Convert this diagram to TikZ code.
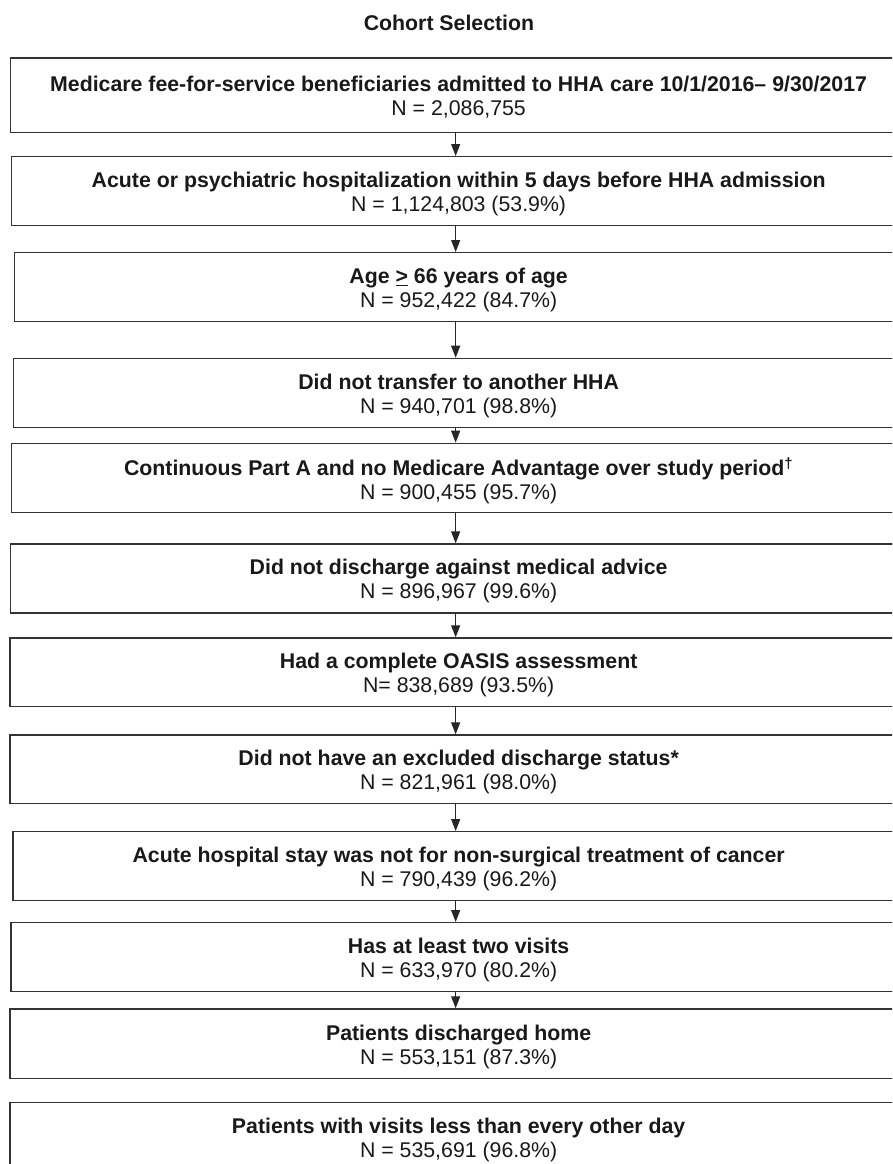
\documentclass[tikz,border=0pt]{standalone}
\usepackage{fontspec}
\setmainfont{Liberation Sans}
\usetikzlibrary{arrows.meta}
\begin{document}
\begin{tikzpicture}[x=1pt,y=-1pt,
  boxst/.style={draw=black!80, line width=1.3pt, anchor=north west, inner sep=0pt},
  txt/.style={align=center, text=black!90, font=\fontsize{21.3pt}{24pt}\selectfont, inner sep=0pt},
  arr/.style={draw=black!85, line width=1.2pt, -{Triangle[length=12pt,width=9pt]}}]
\useasboundingbox (0,0) rectangle (892,1164);
\clip (0,0) rectangle (892,1164);
\node[txt, font=\fontsize{21.3pt}{24pt}\selectfont\bfseries] (title) at (449,22.5) {Cohort Selection};

\node[boxst, minimum width=890pt, minimum height=74.5pt] (b1) at (10,57.5) {};
\node[boxst, minimum width=888pt, minimum height=69pt] (b2) at (11,156) {};
\node[boxst, minimum width=882pt, minimum height=68.5pt] (b3) at (14,252) {};
\node[boxst, minimum width=884.6pt, minimum height=69pt] (b4) at (12.7,357.7) {};
\node[boxst, minimum width=888pt, minimum height=69pt] (b5) at (11,442.7) {};
\node[boxst, minimum width=890pt, minimum height=69pt] (b6) at (10,543.3) {};
\node[boxst, minimum width=891.4pt, minimum height=68.4pt] (b7) at (9.3,637.3) {};
\node[boxst, minimum width=891.4pt, minimum height=68.4pt] (b8) at (9.3,734.3) {};
\node[boxst, minimum width=885.4pt, minimum height=69pt] (b9) at (12.3,831) {};
\node[boxst, minimum width=889.4pt, minimum height=69pt] (b10) at (10.3,922) {};
\node[boxst, minimum width=891.4pt, minimum height=69.2pt] (b11) at (9.3,1008.3) {};
\node[boxst, minimum width=891.4pt, minimum height=69pt] (b12) at (9.3,1102) {};

\node[txt] (t1) at ([xshift=3pt,yshift=-2pt]b1.center) {\textbf{Medicare fee-for-service beneficiaries admitted to HHA care 10/1/2016– 9/30/2017}\\N = 2,086,755};
\node[txt] (t2) at ([xshift=3pt,yshift=-3pt]b2.center) {\textbf{Acute or psychiatric hospitalization within 5 days before HHA admission}\\N = 1,124,803 (53.9\%)};
\node[txt] (t3) at ([xshift=3pt,yshift=-3pt]b3.center) {\textbf{Age \underline{>} 66 years of age}\\N = 952,422 (84.7\%)};
\node[txt] (t4) at ([xshift=3pt,yshift=-3pt]b4.center) {\textbf{Did not transfer to another HHA}\\N = 940,701 (98.8\%)};
\node[txt] (t5) at ([xshift=3pt,yshift=-3pt]b5.center) {\textbf{Continuous Part A and no Medicare Advantage over study period\textsuperscript{†}}\\N = 900,455 (95.7\%)};
\node[txt] (t6) at ([xshift=3pt,yshift=-3pt]b6.center) {\textbf{Did not discharge against medical advice}\\N = 896,967 (99.6\%)};
\node[txt] (t7) at ([xshift=3pt,yshift=-3pt]b7.center) {\textbf{Had a complete OASIS assessment}\\N= 838,689 (93.5\%)};
\node[txt] (t8) at ([xshift=3pt,yshift=-3pt]b8.center) {\textbf{Did not have an excluded discharge status*}\\N = 821,961 (98.0\%)};
\node[txt] (t9) at ([xshift=3pt,yshift=-3pt]b9.center) {\textbf{Acute hospital stay was not for non-surgical treatment of cancer}\\N = 790,439 (96.2\%)};
\node[txt] (t10) at ([xshift=3pt,yshift=-3pt]b10.center) {\textbf{Has at least two visits}\\N = 633,970 (80.2\%)};
\node[txt] (t11) at ([xshift=3pt,yshift=-3pt]b11.center) {\textbf{Patients discharged home}\\N = 553,151 (87.3\%)};
\node[txt] (t12) at ([xshift=3pt,yshift=-3pt]b12.center) {\textbf{Patients with visits less than every other day}\\N = 535,691 (96.8\%)};

\foreach \a/\b in {1/2,2/3,3/4,4/5,5/6,6/7,7/8,8/9,9/10,10/11}
  \draw[arr] (b\a.south) -- (b\b.north);
\end{tikzpicture}
\end{document}
